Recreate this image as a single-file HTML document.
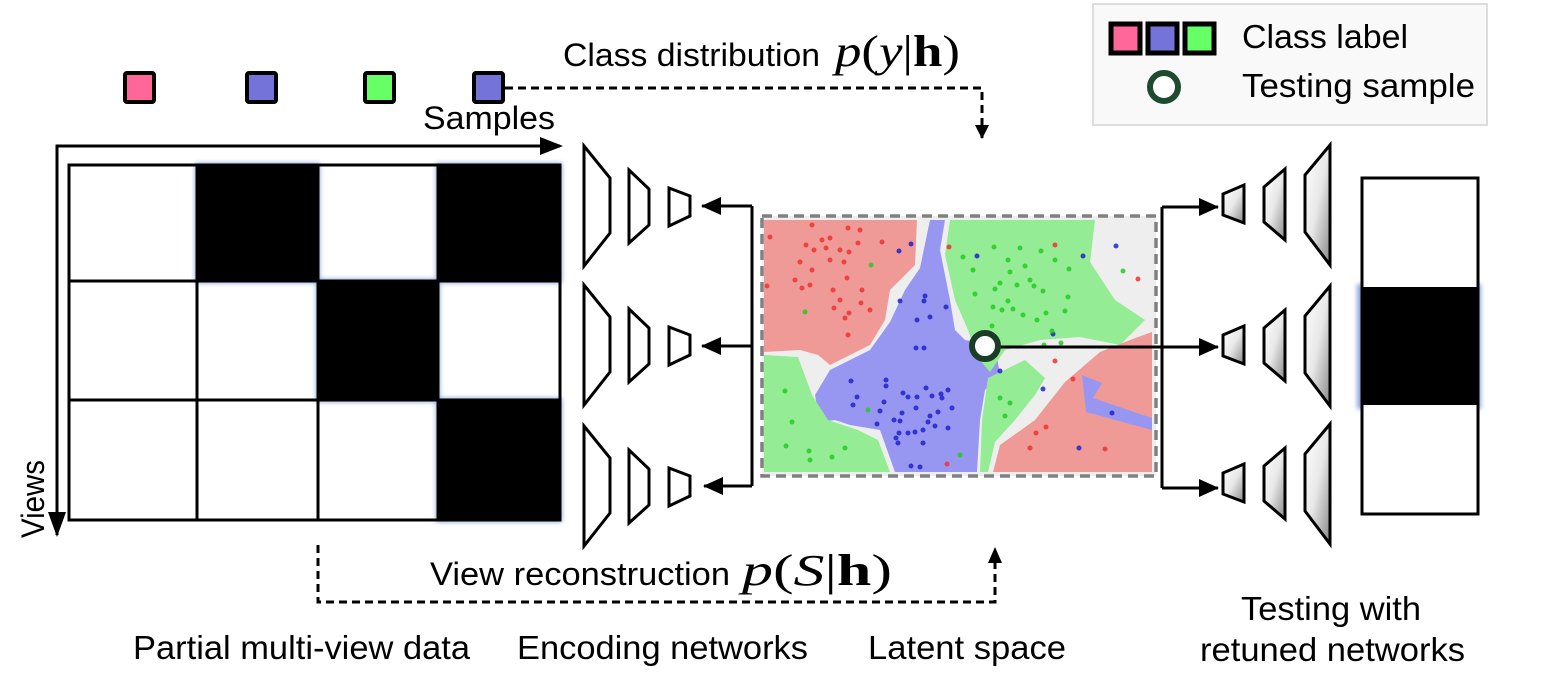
<!DOCTYPE html>
<html><head><meta charset="utf-8"><style>html,body{margin:0;padding:0;background:#fff}svg{display:block}</style></head>
<body>
<svg width="1551" height="683" viewBox="0 0 1551 683" xmlns="http://www.w3.org/2000/svg" font-family="Liberation Sans, sans-serif">
<defs>
<marker id="ahb" markerWidth="20" markerHeight="18" refX="19" refY="9" orient="auto" markerUnits="userSpaceOnUse" viewBox="0 0 20 18"><path d="M0,0 L20,9 L0,18 z" fill="#000"/></marker>
<marker id="ahs" markerWidth="14" markerHeight="14" refX="13" refY="7" orient="auto" markerUnits="userSpaceOnUse" viewBox="0 0 14 14"><path d="M0,0 L14,7 L0,14 z" fill="#000"/></marker>
<linearGradient id="gr" x1="0" x2="1" y1="0" y2="1"><stop offset="0" stop-color="#fff"/><stop offset="0.5" stop-color="#e8e8e8"/><stop offset="1" stop-color="#888"/></linearGradient>
<filter id="gl" x="-10%" y="-10%" width="120%" height="120%"><feGaussianBlur stdDeviation="2.5"/></filter>
</defs>

<g stroke="#000" stroke-width="4">
<rect x="125" y="73" width="29" height="29" rx="2" fill="#ff6699"/>
<rect x="247" y="73" width="29" height="29" rx="2" fill="#7373d9"/>
<rect x="365" y="73" width="29" height="29" rx="2" fill="#66ff66"/>
<rect x="474" y="73" width="29" height="29" rx="2" fill="#7373d9"/>
</g>
<path d="M505,88 H982 V138" fill="none" stroke="#000" stroke-width="3" stroke-dasharray="8,5" marker-end="url(#ahs)"/>
<text x="563" y="66" font-size="32" textLength="257" lengthAdjust="spacingAndGlyphs">Class distribution</text>
<text x="835" y="66" font-size="44" font-family="Liberation Serif, serif" textLength="125" lengthAdjust="spacingAndGlyphs"><tspan font-style="italic">p</tspan>(<tspan font-style="italic">y</tspan>|<tspan font-weight="bold">h</tspan>)</text>

<text x="423" y="129" font-size="32" textLength="132" lengthAdjust="spacingAndGlyphs">Samples</text>
<path d="M57,535 V146 H560" fill="none" stroke="#000" stroke-width="3"/>
<path d="M540,137 L563,146 L540,155 z"/>
<path d="M48,512 L57,537 L66,512 z"/>
<text transform="translate(44,538) rotate(-90)" font-size="32" textLength="78" lengthAdjust="spacingAndGlyphs">Views</text>

<g filter="url(#gl)" fill="#8aa6dd">
<rect x="195" y="163" width="125" height="120"/><rect x="436" y="163" width="126" height="120"/>
<rect x="316" y="279" width="124" height="123"/><rect x="436" y="398" width="126" height="124"/>
</g>
<g fill="#000">
<rect x="197" y="165" width="121" height="116"/><rect x="438" y="165" width="122" height="116"/>
<rect x="318" y="281" width="120" height="119"/><rect x="438" y="400" width="122" height="120"/>
</g>
<g stroke="#000" stroke-width="3" fill="none">
<rect x="69" y="165" width="491" height="355"/>
<line x1="69" y1="281" x2="560" y2="281"/><line x1="69" y1="400" x2="560" y2="400"/>
<line x1="197" y1="165" x2="197" y2="520"/><line x1="318" y1="165" x2="318" y2="520"/><line x1="438" y1="165" x2="438" y2="520"/>
</g>

<g fill="#fff" stroke="#000" stroke-width="3">
<g id="enc">
<path d="M584,146 L610,178 L610,233 L584,266 z"/>
<path d="M629,170 L649,189 L649,225 L629,243 z"/>
<path d="M669,188 L690,196 L690,216 L669,226 z"/>
</g>
<use href="#enc" y="139"/><use href="#enc" y="280"/>
</g>
<path d="M752,206 V486" stroke="#000" stroke-width="3"/>
<g stroke="#000" stroke-width="3"><path d="M752,206 H702" marker-end="url(#ahb)"/><path d="M752,346 H702" marker-end="url(#ahb)"/><path d="M752,486 H704" marker-end="url(#ahb)"/></g>

<rect x="762" y="216" width="394" height="260" fill="#eee"/>
<g>
<path fill="#f09a98" d="M764,220 L917,220 L915,265 L890,290 L885,320 L870,345 L830,365 L818,355 L800,350 L764,352 z"/>
<path fill="#9797f2" d="M930,220 L945,220 L940,250 L950,300 L955,330 L965,340 L995,345 L1000,375 L985,390 L980,420 L977,472 L895,472 L880,430 L850,425 L835,420 L820,422 L815,395 L830,370 L870,350 L890,322 L905,290 L920,268 z"/>
<path fill="#94ec94" d="M950,220 L1095,220 L1090,262 L1115,300 L1145,320 L1120,345 L1080,337 L1040,340 L1005,350 L990,372 L978,358 L968,330 L955,300 L945,255 z"/>
<path fill="#94ec94" d="M988,378 L1025,360 L1045,378 L1035,395 L1015,420 L995,442 L988,472 L980,472 L982,420 z"/>
<path fill="#f09a98" d="M993,472 L1000,445 L1035,420 L1065,382 L1100,352 L1130,340 L1152,332 L1152,472 z"/>
<path fill="#9797f2" d="M1082,375 L1102,383 L1093,398 L1152,418 L1152,430 L1086,412 z"/>
<path fill="#94ec94" d="M764,355 L798,357 L812,395 L828,420 L858,430 L878,440 L890,472 L764,472 z"/>
</g>
<g fill="#e33" opacity="0.85">
<circle cx="770" cy="237" r="2.5"/><circle cx="812" cy="225" r="2.5"/><circle cx="806" cy="245" r="2.5"/><circle cx="814" cy="250" r="2.5"/><circle cx="822" cy="240" r="2.5"/><circle cx="826" cy="248" r="2.5"/><circle cx="830" cy="238" r="2.5"/><circle cx="840" cy="250" r="2.5"/><circle cx="800" cy="262" r="2.5"/><circle cx="812" cy="270" r="2.5"/><circle cx="830" cy="260" r="2.5"/><circle cx="844" cy="262" r="2.5"/><circle cx="795" cy="280" r="2.5"/><circle cx="802" cy="288" r="2.5"/><circle cx="810" cy="285" r="2.5"/><circle cx="833" cy="290" r="2.5"/><circle cx="840" cy="300" r="2.5"/><circle cx="862" cy="290" r="2.5"/><circle cx="860" cy="230" r="2.5"/><circle cx="858" cy="243" r="2.5"/><circle cx="882" cy="242" r="2.5"/><circle cx="834" cy="308" r="2.5"/><circle cx="845" cy="318" r="2.5"/><circle cx="861" cy="303" r="2.5"/><circle cx="870" cy="310" r="2.5"/><circle cx="848" cy="228" r="2.5"/><circle cx="767" cy="286" r="2.5"/><circle cx="847" cy="278" r="2.5"/><circle cx="848" cy="335" r="2.5"/><circle cx="849" cy="313" r="2.5"/><circle cx="849" cy="252" r="2.5"/><circle cx="1046" cy="427" r="2.5"/><circle cx="1036" cy="433" r="2.5"/><circle cx="1030" cy="448" r="2.5"/><circle cx="1105" cy="449" r="2.5"/><circle cx="1073" cy="379" r="2.5"/><circle cx="1055" cy="245" r="2.5"/><circle cx="1138" cy="279" r="2.5"/><circle cx="947" cy="464" r="2.5"/><circle cx="949" cy="247" r="2.5"/><circle cx="1055" cy="361" r="2.5"/></g>
<g fill="#22c" opacity="0.85">
<circle cx="900" cy="301" r="2.5"/><circle cx="925" cy="296" r="2.5"/><circle cx="924" cy="301" r="2.5"/><circle cx="946" cy="307" r="2.5"/><circle cx="930" cy="317" r="2.5"/><circle cx="917" cy="320" r="2.5"/><circle cx="916" cy="348" r="2.5"/><circle cx="924" cy="348" r="2.5"/><circle cx="851" cy="381" r="2.5"/><circle cx="886" cy="380" r="2.5"/><circle cx="886" cy="386" r="2.5"/><circle cx="857" cy="397" r="2.5"/><circle cx="884" cy="402" r="2.5"/><circle cx="853" cy="405" r="2.5"/><circle cx="880" cy="411" r="2.5"/><circle cx="903" cy="393" r="2.5"/><circle cx="908" cy="397" r="2.5"/><circle cx="917" cy="397" r="2.5"/><circle cx="926" cy="388" r="2.5"/><circle cx="932" cy="396" r="2.5"/><circle cx="941" cy="394" r="2.5"/><circle cx="948" cy="390" r="2.5"/><circle cx="942" cy="398" r="2.5"/><circle cx="952" cy="408" r="2.5"/><circle cx="916" cy="408" r="2.5"/><circle cx="902" cy="413" r="2.5"/><circle cx="930" cy="416" r="2.5"/><circle cx="938" cy="412" r="2.5"/><circle cx="894" cy="420" r="2.5"/><circle cx="900" cy="421" r="2.5"/><circle cx="877" cy="424" r="2.5"/><circle cx="928" cy="422" r="2.5"/><circle cx="935" cy="426" r="2.5"/><circle cx="948" cy="428" r="2.5"/><circle cx="899" cy="433" r="2.5"/><circle cx="915" cy="432" r="2.5"/><circle cx="923" cy="430" r="2.5"/><circle cx="898" cy="443" r="2.5"/><circle cx="908" cy="433" r="2.5"/><circle cx="896" cy="438" r="2.5"/><circle cx="923" cy="443" r="2.5"/><circle cx="911" cy="466" r="2.5"/><circle cx="920" cy="467" r="2.5"/><circle cx="899" cy="251" r="2.5"/><circle cx="911" cy="244" r="2.5"/><circle cx="977" cy="256" r="2.5"/><circle cx="1116" cy="246" r="2.5"/><circle cx="1083" cy="256" r="2.5"/><circle cx="1000" cy="371" r="2.5"/><circle cx="1043" cy="389" r="2.5"/><circle cx="1112" cy="413" r="2.5"/><circle cx="1079" cy="448" r="2.5"/><circle cx="1053" cy="334" r="2.5"/></g>
<g fill="#2c2" opacity="0.85">
<circle cx="963" cy="257" r="2.5"/><circle cx="973" cy="270" r="2.5"/><circle cx="994" cy="247" r="2.5"/><circle cx="1008" cy="260" r="2.5"/><circle cx="1020" cy="248" r="2.5"/><circle cx="1041" cy="251" r="2.5"/><circle cx="1055" cy="260" r="2.5"/><circle cx="1010" cy="272" r="2.5"/><circle cx="1025" cy="266" r="2.5"/><circle cx="1030" cy="280" r="2.5"/><circle cx="1017" cy="285" r="2.5"/><circle cx="995" cy="289" r="2.5"/><circle cx="1000" cy="283" r="2.5"/><circle cx="1008" cy="301" r="2.5"/><circle cx="993" cy="307" r="2.5"/><circle cx="1013" cy="309" r="2.5"/><circle cx="1002" cy="310" r="2.5"/><circle cx="1023" cy="315" r="2.5"/><circle cx="1034" cy="286" r="2.5"/><circle cx="1043" cy="291" r="2.5"/><circle cx="1046" cy="313" r="2.5"/><circle cx="1037" cy="320" r="2.5"/><circle cx="1052" cy="331" r="2.5"/><circle cx="1044" cy="345" r="2.5"/><circle cx="1061" cy="343" r="2.5"/><circle cx="1068" cy="297" r="2.5"/><circle cx="975" cy="294" r="2.5"/><circle cx="1065" cy="311" r="2.5"/><circle cx="992" cy="326" r="2.5"/><circle cx="1000" cy="398" r="2.5"/><circle cx="1010" cy="403" r="2.5"/><circle cx="1005" cy="416" r="2.5"/><circle cx="785" cy="391" r="2.5"/><circle cx="792" cy="422" r="2.5"/><circle cx="786" cy="446" r="2.5"/><circle cx="809" cy="451" r="2.5"/><circle cx="810" cy="460" r="2.5"/><circle cx="832" cy="457" r="2.5"/><circle cx="845" cy="448" r="2.5"/><circle cx="805" cy="312" r="2.5"/><circle cx="871" cy="265" r="2.5"/><circle cx="868" cy="410" r="2.5"/><circle cx="960" cy="455" r="2.5"/><circle cx="1123" cy="271" r="2.5"/><circle cx="1069" cy="269" r="2.5"/></g>
<rect x="762" y="216" width="394" height="260" fill="none" stroke="#808080" stroke-width="3.5" stroke-dasharray="10,6"/>
<path d="M1162,207 V488" stroke="#000" stroke-width="3"/>
<g stroke="#000" stroke-width="3"><path d="M1162,207 H1218" marker-end="url(#ahb)"/><path d="M997,347 H1218" marker-end="url(#ahb)"/><path d="M1162,488 H1218" marker-end="url(#ahb)"/></g>
<circle cx="985" cy="346" r="13" fill="#fff" stroke="#1a3d26" stroke-width="6"/>

<g fill="url(#gr)" stroke="#000" stroke-width="3">
<g id="dec">
<path d="M1223,194 L1244,185 L1244,223 L1223,215 z"/>
<path d="M1264,187 L1285,169 L1285,240 L1264,222 z"/>
<path d="M1305,175 L1330,145 L1330,265 L1305,232 z"/>
</g>
<use href="#dec" y="141"/><use href="#dec" y="279"/>
</g>

<rect x="1357" y="284" width="124" height="125" fill="#8aa6dd" filter="url(#gl)"/>
<rect x="1362" y="178" width="116" height="336" fill="#fff" stroke="#000" stroke-width="3"/>
<rect x="1361" y="287" width="118" height="118" fill="#000"/>

<rect x="1093" y="4" width="394" height="121" fill="#f9f9f9" stroke="#ddd" stroke-width="2"/>
<g stroke="#000" stroke-width="5">
<rect x="1111" y="24" width="29" height="29" fill="#ff6699"/>
<rect x="1148" y="24" width="29" height="29" fill="#7373d9"/>
<rect x="1185" y="24" width="29" height="29" fill="#66ff66"/>
</g>
<circle cx="1164" cy="87" r="14" fill="#fff" stroke="#1e4a30" stroke-width="6"/>
<text x="1242" y="48" font-size="33" textLength="166" lengthAdjust="spacingAndGlyphs">Class label</text>
<text x="1242" y="97" font-size="33" textLength="233" lengthAdjust="spacingAndGlyphs">Testing sample</text>

<path d="M318,545 V602 H995 V552" fill="none" stroke="#000" stroke-width="3" stroke-dasharray="8,5"/>
<path d="M988,563 L995,547 L1002,563 z"/>
<text x="430" y="585" font-size="32" textLength="300" lengthAdjust="spacingAndGlyphs">View reconstruction</text>
<text x="742" y="585" font-size="44" font-family="Liberation Serif, serif" textLength="150" lengthAdjust="spacingAndGlyphs"><tspan font-style="italic">p</tspan>(<tspan font-style="italic">S</tspan>|<tspan font-weight="bold">h</tspan>)</text>
<text x="133" y="659" font-size="33" textLength="337" lengthAdjust="spacingAndGlyphs">Partial multi-view data</text>
<text x="517" y="659" font-size="33" textLength="291" lengthAdjust="spacingAndGlyphs">Encoding networks</text>
<text x="868" y="659" font-size="33" textLength="198" lengthAdjust="spacingAndGlyphs">Latent space</text>
<text x="1241" y="620" font-size="33" textLength="180" lengthAdjust="spacingAndGlyphs">Testing with</text>
<text x="1200" y="661" font-size="33" textLength="265" lengthAdjust="spacingAndGlyphs">retuned networks</text>
</svg>
</body></html>
